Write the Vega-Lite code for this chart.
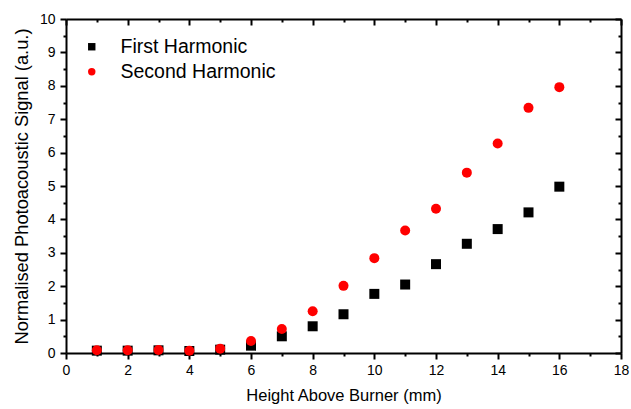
{
  "$schema": "https://vega.github.io/schema/vega-lite/v6.json",
  "autosize": "none",
  "width": 555,
  "height": 334,
  "padding": {"left": 66, "top": 19, "right": 10, "bottom": 56},
  "background": "white",
  "config": {
    "font": "Liberation Sans",
    "view": {"stroke": null},
    "axis": {"grid": false, "domainColor": "black", "domainWidth": 2, "tickColor": "black", "tickWidth": 2, "labelColor": "black", "titleColor": "black", "labelFontSize": 14, "titleFontSize": 16.5, "titleFontWeight": "normal", "labelFont": "Liberation Sans", "titleFont": "Liberation Sans"}
  },
  "data": {"values": [
    {"h": 1, "s": 0.07, "series": "First Harmonic"},
    {"h": 2, "s": 0.07, "series": "First Harmonic"},
    {"h": 3, "s": 0.08, "series": "First Harmonic"},
    {"h": 4, "s": 0.06, "series": "First Harmonic"},
    {"h": 5, "s": 0.10, "series": "First Harmonic"},
    {"h": 6, "s": 0.22, "series": "First Harmonic"},
    {"h": 7, "s": 0.50, "series": "First Harmonic"},
    {"h": 8, "s": 0.80, "series": "First Harmonic"},
    {"h": 9, "s": 1.16, "series": "First Harmonic"},
    {"h": 10, "s": 1.77, "series": "First Harmonic"},
    {"h": 11, "s": 2.05, "series": "First Harmonic"},
    {"h": 12, "s": 2.66, "series": "First Harmonic"},
    {"h": 13, "s": 3.27, "series": "First Harmonic"},
    {"h": 14, "s": 3.71, "series": "First Harmonic"},
    {"h": 15, "s": 4.21, "series": "First Harmonic"},
    {"h": 16, "s": 4.98, "series": "First Harmonic"},
    {"h": 1, "s": 0.08, "series": "Second Harmonic"},
    {"h": 2, "s": 0.08, "series": "Second Harmonic"},
    {"h": 3, "s": 0.09, "series": "Second Harmonic"},
    {"h": 4, "s": 0.07, "series": "Second Harmonic"},
    {"h": 5, "s": 0.13, "series": "Second Harmonic"},
    {"h": 6, "s": 0.36, "series": "Second Harmonic"},
    {"h": 7, "s": 0.72, "series": "Second Harmonic"},
    {"h": 8, "s": 1.25, "series": "Second Harmonic"},
    {"h": 9, "s": 2.01, "series": "Second Harmonic"},
    {"h": 10, "s": 2.84, "series": "Second Harmonic"},
    {"h": 11, "s": 3.67, "series": "Second Harmonic"},
    {"h": 12, "s": 4.32, "series": "Second Harmonic"},
    {"h": 13, "s": 5.40, "series": "Second Harmonic"},
    {"h": 14, "s": 6.27, "series": "Second Harmonic"},
    {"h": 15, "s": 7.34, "series": "Second Harmonic"},
    {"h": 16, "s": 7.96, "series": "Second Harmonic"}
  ]},
  "resolve": {"axis": {"x": "independent", "y": "independent"}},
  "layer": [
    {
      "mark": {"type": "point", "filled": true, "opacity": 1, "size": 100},
      "encoding": {
        "x": {"field": "h", "type": "quantitative", "scale": {"domain": [0, 18], "nice": false, "zero": false},
          "axis": {"title": "Height Above Burner (mm)", "orient": "bottom", "values": [0,1,2,3,4,5,6,7,8,9,10,11,12,13,14,15,16,17,18],
            "labelExpr": "datum.value % 2 === 0 ? '' + datum.value : ''",
            "tickSize": {"condition": {"test": "datum.value % 2 === 0", "value": 6}, "value": 3},
            "labelPadding": 4, "titlePadding": 10, "labelFlush": false}},
        "y": {"field": "s", "type": "quantitative", "scale": {"domain": [0, 10], "nice": false},
          "axis": {"title": "Normalised Photoacoustic Signal (a.u.)", "orient": "left", "values": [0,0.5,1,1.5,2,2.5,3,3.5,4,4.5,5,5.5,6,6.5,7,7.5,8,8.5,9,9.5,10],
            "labelExpr": "datum.value % 1 === 0 ? '' + datum.value : ''",
            "tickSize": {"condition": {"test": "datum.value % 1 === 0", "value": 6}, "value": 3},
            "labelPadding": 5, "titlePadding": 8, "titleFontSize": 18.3, "labelFlush": false}},
        "shape": {"field": "series", "type": "nominal", "scale": {"domain": ["First Harmonic", "Second Harmonic"], "range": ["square", "circle"]},
          "legend": {"title": null, "orient": "none", "legendX": 16, "legendY": 18, "labelFontSize": 19.5, "labelFont": "Liberation Sans", "labelColor": "black", "symbolSize": 55, "labelOffset": 19, "rowPadding": 4, "labelLimit": 300}},
        "color": {"field": "series", "type": "nominal", "scale": {"domain": ["First Harmonic", "Second Harmonic"], "range": ["#000000", "#ff0000"]},
          "legend": {"title": null, "orient": "none", "legendX": 16, "legendY": 18, "labelFontSize": 19.5, "labelFont": "Liberation Sans", "labelColor": "black", "symbolSize": 55, "labelOffset": 19, "rowPadding": 4, "labelLimit": 300}}
      }
    },
    {
      "mark": {"type": "point", "opacity": 0},
      "encoding": {
        "x": {"field": "h", "type": "quantitative",
          "axis": {"title": null, "orient": "top", "values": [0,1,2,3,4,5,6,7,8,9,10,11,12,13,14,15,16,17,18], "labels": false,
            "tickSize": {"condition": {"test": "datum.value % 2 === 0", "value": -6}, "value": -3}}},
        "y": {"field": "s", "type": "quantitative",
          "axis": {"title": null, "orient": "right", "values": [0,0.5,1,1.5,2,2.5,3,3.5,4,4.5,5,5.5,6,6.5,7,7.5,8,8.5,9,9.5,10], "labels": false,
            "tickSize": {"condition": {"test": "datum.value % 1 === 0", "value": -6}, "value": -3}}}
      }
    }
  ]
}
